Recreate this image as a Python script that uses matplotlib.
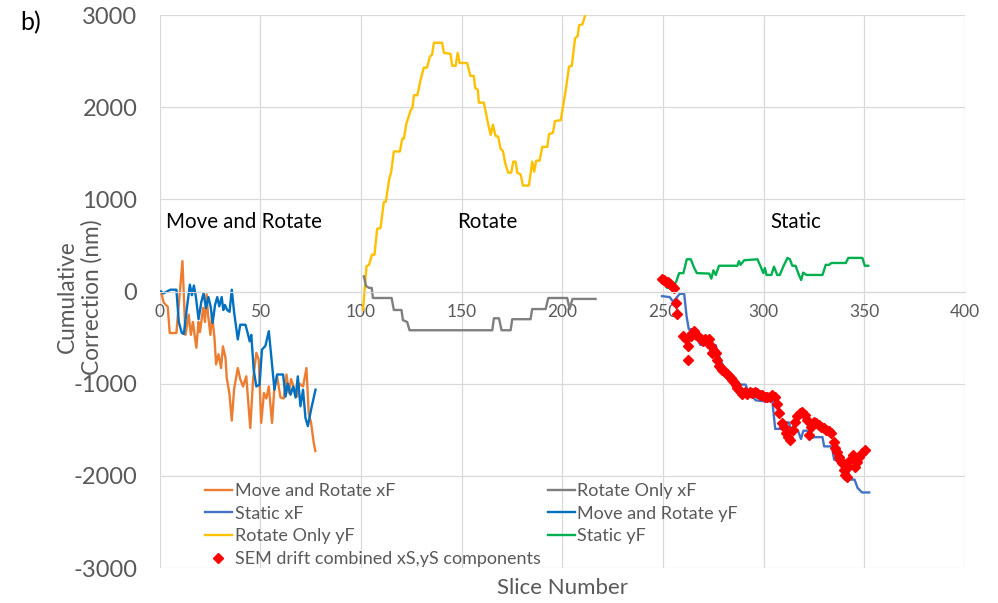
import matplotlib
matplotlib.use("Agg")
import matplotlib.pyplot as plt

plt.rcParams['font.family'] = ['Lato', 'DejaVu Sans']
plt.rcParams['axes.unicode_minus'] = False

# ---------------- data ----------------
mr_xf_x = [0.6, 2, 4, 5, 8.3, 11.3, 12.8, 14.4, 15.5, 16.5, 18.2, 19.3, 20, 21.6, 22.5, 23.3, 24, 25.2, 26,
           27.2, 28, 29.2, 30.5, 31.4, 32.7, 33.3, 34.7, 35.8, 37, 38.8, 40, 41.4, 43, 45, 46.4, 48, 49.2,
           50.4, 51.8, 53, 54.2, 55.8, 57, 58.3, 60, 61.6, 63, 64.1, 65.3, 66.9, 68.2, 69.5, 71.2, 72.9,
           74, 75.2, 76.5, 77.3]
mr_xf_y = [0, -120, -165, -450, -450, 330, -470, -250, -470, -330, -610, -330, -440, -175, -330, -30, -250,
           -470, -250, -500, -790, -680, -830, -595, -720, -935, -1120, -1400, -1050, -830, -950, -1030,
           -920, -1480, -950, -665, -740, -1425, -1100, -1160, -1030, -1425, -1030, -920, -1150, -1160,
           -900, -1100, -950, -1065, -1140, -1000, -1030, -830, -1320, -1425, -1640, -1730]

mr_yf_x = [0.6, 1.9, 3.6, 5.3, 8.3, 9.5, 11, 12, 13.5, 15, 16, 17, 18, 19.3, 20.7, 21.8, 23, 24.2, 25.3,
           26.3, 27.5, 28.6, 29.6, 30.8, 31.6, 32.4, 33.5, 34.7, 35.8, 37, 38.8, 40, 42.6, 43.7, 44.7,
           45.5, 46.7, 48, 49.6, 50.8, 52.5, 54.2, 55.4, 57, 58.3, 61.3, 62.5, 63.6, 65, 66.3, 67.5, 68.6,
           69.9, 71.2, 72.4, 73.6, 75.2, 77.4]
mr_yf_y = [0, -20, 0, 20, 20, -330, -450, -460, -180, 75, -40, 65, -60, -300, -110, -20, -180, -60, -160,
           -340, -145, -60, -160, -60, -200, -145, -200, -220, 20, -230, -520, -360, -360, -450, -540,
           -470, -850, -1030, -1010, -630, -590, -430, -700, -1065, -900, -900, -1140, -1000, -1120,
           -1030, -1150, -920, -1245, -1065, -1370, -1460, -1280, -1065]

ro_yf_x = [101, 102.7, 104, 105.4, 106.7, 108, 109.7, 111.3, 112.3, 114, 115, 116.3, 119.3, 120.5, 121.3,
           122.5, 124.7, 125.5, 126.3, 128, 129.6, 131.2, 132.8, 134.2, 135.3, 136.2, 140.3, 141.2, 144.4,
           145.3, 147, 148, 149, 152.7, 154.3, 156, 156.7, 158, 158.5, 161, 163.2, 164.4, 165.5, 166.8,
           168.1, 169.3, 170.5, 171.5, 173.1, 174.6, 175.6, 176.8, 177.6, 179.3, 180.4, 183.4, 185, 186,
           187, 188.7, 190, 192.5, 193.4, 195.3, 196.3, 199.2, 201.7, 203.3, 204.7, 206.3, 207.6, 208.3,
           210, 211.6, 214]
ro_yf_y = [-200, 275, 290, 400, 400, 680, 690, 970, 975, 1220, 1300, 1520, 1520, 1660, 1660, 1820, 1970,
           1990, 2130, 2130, 2300, 2430, 2430, 2550, 2570, 2700, 2700, 2590, 2580, 2450, 2450, 2590, 2480,
           2480, 2340, 2340, 2210, 2190, 2050, 2050, 1810, 1700, 1810, 1690, 1680, 1550, 1525, 1400, 1290,
           1290, 1410, 1410, 1290, 1270, 1150, 1150, 1410, 1300, 1420, 1420, 1570, 1570, 1710, 1720, 1850,
           1860, 2190, 2440, 2450, 2750, 2770, 2890, 2900, 3020, 3200]

ro_xf_x = [101.4, 102.5, 104, 105.3, 105.9, 115.2, 116.3, 120.1, 120.8, 122.9, 124.1, 165.2, 166, 168.5,
           169.8, 174.3, 175.1, 184.2, 185, 191.7, 193, 202.4, 203.6, 205, 216.5]
ro_xf_y = [165, 60, 40, 40, -70, -70, -200, -200, -310, -330, -420, -420, -290, -290, -420, -420, -300,
           -300, -190, -190, -70, -70, -190, -80, -80]

st_xf_x = [249.5, 253.3, 255, 258.3, 260.5, 261.7, 262.8, 265, 266.2, 268.6, 276.1, 277.7, 279.3, 280.6,
           281.8, 284.2, 287.2, 288.9, 291, 292.2, 296, 300.2, 302, 303.5, 304.3, 305.7, 309.3, 310.6,
           312.5, 313.6, 317, 318.5, 319.7, 322.2, 323.5, 325.3, 329.2, 330, 333.8, 335, 337.5, 339.2,
           341.7, 342.9, 345.1, 346.6, 348.8, 352.4]
st_xf_y = [-50, -60, -110, -25, -25, -270, -410, -410, -490, -580, -580, -690, -780, -830, -870, -920,
           -995, -1010, -1010, -1080, -1180, -1190, -1190, -1140, -1190, -1490, -1490, -1420, -1420, -1510,
           -1510, -1600, -1510, -1510, -1590, -1580, -1580, -1680, -1680, -1825, -1825, -1930, -1930,
           -2040, -2040, -2130, -2180, -2180]

st_yf_x = [250.8, 252, 254.5, 256.6, 258, 260.1, 261.8, 263.8, 265.4, 266.8, 272.9, 274, 275, 276.2,
           277.8, 286.9, 287.7, 288.5, 290.3, 296.9, 298.5, 299.8, 300.6, 301.4, 303.8, 305.1, 306.7,
           308, 309.7, 311.8, 313, 314.2, 315.8, 317.5, 318.6, 319.6, 321.3, 329.2, 330.8, 332.5, 333.6,
           340.8, 342, 349, 350.2, 351.9]
st_yf_y = [95, 40, 40, 110, 200, 200, 350, 350, 260, 200, 195, 140, 230, 180, 280, 280, 330, 290, 340,
           350, 270, 200, 255, 180, 180, 270, 180, 180, 270, 365, 350, 280, 280, 180, 125, 205, 180, 180,
           290, 290, 310, 310, 365, 365, 280, 280]

sem_x = [249.3, 250.5, 251.6, 252.6, 253.3, 254.3, 255.3, 256.3, 256.7, 260, 261.3, 262.6, 262.5, 263.8,
         264.6, 265.4, 266.2, 267.6, 268.7, 269.6, 270.9, 272.1, 272.9, 273.7, 274.5, 275.4, 276.2, 277,
         277.8, 278.6, 279.5, 280.3, 281.1, 281.9, 282.8, 283.6, 284.4, 285.2, 286.1, 286.9, 287.7,
         288.6, 289.4, 290.7, 291.9, 293, 294.4, 295.7, 296.8, 298, 299.3, 300.6, 301.8, 302.9, 304.3,
         305.6, 306.7, 307.6, 308.9, 310, 311.2, 312.2, 313.3, 314.5, 315.5, 316.6, 317.8, 319.1, 320.4,
         321.6, 322.7, 323.7, 324.9, 326, 327.3, 328.6, 329.8, 330.9, 332.3, 333.6, 334.7, 335.6, 336.4,
         337.2, 338, 338.9, 339.7, 340.5, 341.3, 341.8, 343, 344.1, 345.1, 346.3, 347.4, 348.8, 350.1]
sem_y = [138, 123, 108, 101, 87, 65, 40, -123, -240, -485, -520, -587, -745, -485, -450, -430, -470, -485,
         -515, -540, -520, -555, -515, -595, -665, -650, -665, -740, -805, -830, -850, -865, -885, -900,
         -920, -940, -955, -985, -1010, -1045, -1065, -1095, -1110, -1095, -1110, -1095, -1100, -1090,
         -1100, -1120, -1120, -1140, -1140, -1140, -1120, -1140, -1215, -1320, -1430, -1465, -1535, -1580,
         -1615, -1505, -1420, -1355, -1320, -1310, -1340, -1390, -1555, -1465, -1420, -1430, -1445,
         -1465, -1485, -1505, -1515, -1535, -1637, -1700, -1745, -1790, -1825, -1860, -1935, -1990,
         -2015, -1900, -1825, -1770, -1900, -1845, -1790, -1755, -1720]

x_ticks = [0, 50, 100, 150, 200, 250, 300, 350, 400]
y_ticks = [-3000, -2000, -1000, 0, 1000, 2000, 3000]
labels = ["Move and Rotate xF", "Static xF", "Rotate Only yF", "SEM drift combined xS,yS components",
          "Rotate Only xF", "Move and Rotate yF", "Static yF"]
regions = [("Move and Rotate", 41.7, 750), ("Rotate", 162.5, 750), ("Static", 316, 750)]

# ---------------- plot ----------------
TXT = '#595959'
fig = plt.figure(figsize=(9.98, 6.03), dpi=100)
ax = fig.add_axes([0.160, 0.058, 0.807, 0.917])

lw = 1.7
l_mrx, = ax.plot(mr_xf_x, mr_xf_y, color='#ED7D31', lw=lw)
l_stx, = ax.plot(st_xf_x, st_xf_y, color='#4472C4', lw=lw)
l_roy, = ax.plot(ro_yf_x, ro_yf_y, color='#FFC000', lw=lw)
l_rox, = ax.plot(ro_xf_x, ro_xf_y, color='#7F7F7F', lw=lw)
l_mry, = ax.plot(mr_yf_x, mr_yf_y, color='#0070C0', lw=lw)
l_sty, = ax.plot(st_yf_x, st_yf_y, color='#00B050', lw=lw)
l_sem, = ax.plot(sem_x, sem_y, ls='none', marker='D', ms=5.5, color='#FF0000', mec='#FF0000')

ax.set_xlim(0, 400)
ax.set_ylim(-3000, 3000)
ax.set_xticks(x_ticks)
ax.set_yticks(y_ticks)
ax.grid(True, color='#D9D9D9', lw=0.9)
ax.set_axisbelow(True)
for s in ['top', 'right', 'left']:
    ax.spines[s].set_visible(False)
ax.spines['bottom'].set_position(('data', 0))
ax.spines['bottom'].set_color('#D9D9D9')
ax.tick_params(axis='x', length=0, labelsize=12.5, labelcolor=TXT, pad=9)
ax.tick_params(axis='y', length=0, labelsize=17, labelcolor=TXT, pad=16)

ax.set_xlabel("Slice Number", fontsize=16, color=TXT)
ax.xaxis.label.set_va('center')
ax.xaxis.set_label_coords(0.5, -0.036)
ax.set_ylabel("Cumulative\nCorrection (nm)", fontsize=16.3, color=TXT, linespacing=1.2)
ax.yaxis.label.set_va('center')
ax.yaxis.set_label_coords(-0.099, 0.49)

for t, x, y in regions:
    ax.text(x, y, t, fontsize=14.8, color='black', ha='center', va='center')

fig.text(0.02, 0.962, "b)", fontsize=18, color='black', ha='left', va='center')

handles = [l_mrx, l_stx, l_roy, l_sem, l_rox, l_mry, l_sty]
leg = ax.legend(handles, labels, ncol=2, frameon=False, loc='center left',
                bbox_to_anchor=(0.056, 0.078), fontsize=13, handlelength=1.5,
                handletextpad=0.15, columnspacing=0.4, labelspacing=0.37,
                borderaxespad=0, borderpad=0)
for t in leg.get_texts():
    t.set_color(TXT)

fig.savefig("out.png", dpi=100)
